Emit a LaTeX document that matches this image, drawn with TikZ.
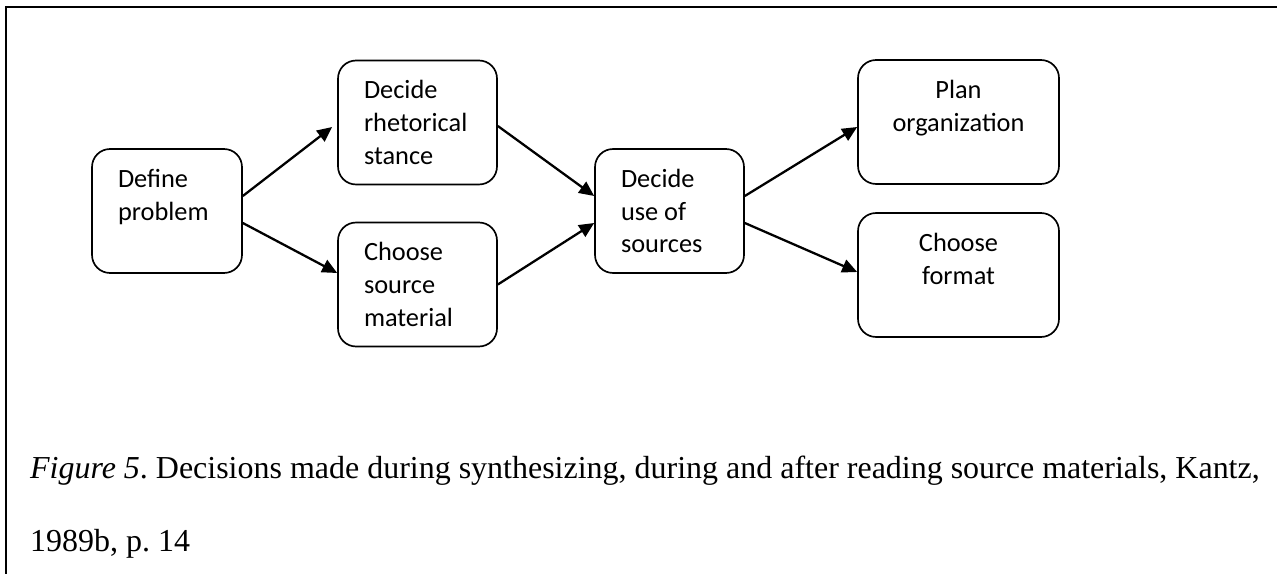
\documentclass[tikz,border=0pt]{standalone}
\usepackage{fontspec}
\setmainfont{Liberation Serif}
\newfontfamily\boxfont{Carlito}
\usetikzlibrary{arrows.meta}
\frenchspacing

\begin{document}
\begin{tikzpicture}[x=0.02cm,y=-0.02cm,>={Triangle[length=0.3cm,width=0.27cm]},line width=1.3pt]
\tikzstyle{box}=[draw,line width=0.95pt,rounded corners=0.36cm,minimum height=2.48cm,inner xsep=0.52cm,inner ysep=0pt,align=flush left,font=\boxfont\fontsize{15pt}{18.6pt}\selectfont]

\useasboundingbox (0,0) rectangle (1277,574);
\draw[line width=0.8pt] (6,574) -- (6,7) -- (1277,7);

\node[box,text width=1.96cm] (define) at (167,211) {Define\\problem\\~};
\node[box,text width=2.14cm] (stance) at (417.5,122.5) {Decide\\rhetorical\\stance};
\node[box,text width=2.14cm] (source) at (417.5,284.5) {Choose\\source\\material};
\node[box,text width=1.94cm] (use) at (669.5,211) {Decide\\use of\\sources};
\node[box,text width=2.98cm,align=flush center] (plan) at (958.5,122) {Plan\\organization\\~};
\node[box,text width=2.98cm,align=flush center] (format) at (958.5,275) {Choose\\format\\~};

\draw[->] ([yshift=0.3cm]define.east) -- ([xshift=-0.1cm,yshift=-0.09cm]stance.west);
\draw[->] ([yshift=-0.24cm]define.east) -- ([yshift=0.23cm]source.west);
\draw[->] ([yshift=-0.07cm]stance.east) -- ([yshift=0.3cm]use.west);
\draw[->] (source.east) -- ([yshift=-0.24cm]use.west);
\draw[->] ([yshift=0.3cm]use.east) -- ([yshift=-0.1cm]plan.west);
\draw[->] ([yshift=-0.24cm]use.east) -- ([yshift=0.06cm]format.west);

% caption
\node[anchor=north west,inner sep=0pt,align=flush left,font=\fontsize{18.2pt}{41.5pt}\selectfont] (caption) at (29,455) {\textit{Figure 5}. Decisions made during synthesizing, during and after reading source materials, Kantz,\\1989b, p. 14};
\end{tikzpicture}
\end{document}
